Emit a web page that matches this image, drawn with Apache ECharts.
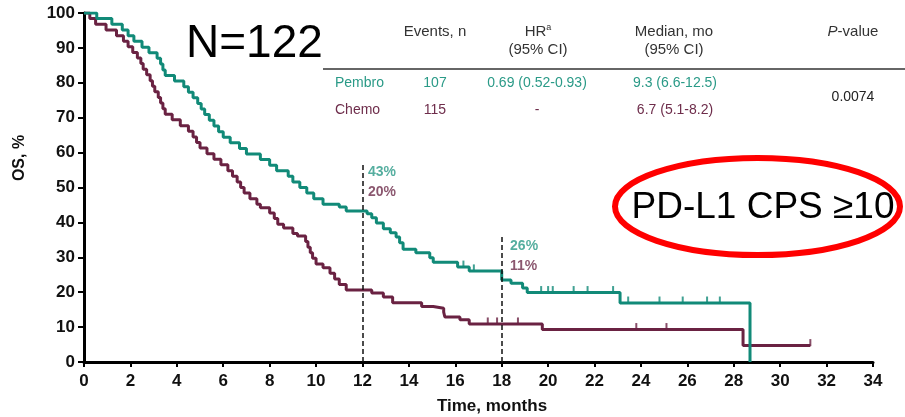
<!DOCTYPE html>
<html>
<head>
<meta charset="utf-8">
<script src="https://cdn.jsdelivr.net/npm/echarts@6/dist/echarts.min.js"></script>
<style>html,body{margin:0;padding:0;background:#fff}#c{width:905px;height:417px}</style>
</head>
<body>
<div id="c"></div>
<script>
// ---- data ----
var xTicks = [0, 34, 2];       // min, max, interval (months)
var yTicks = [0, 100, 10];     // min, max, interval (%)
var pembroKM = [[0,100],[0.55,98.4],[1.2,96.8],[1.65,95.1],[1.9,93.5],[2.15,91.9],[2.5,90.2],[2.8,88.6],[3.15,87.0],[3.3,85.4],[3.4,83.7],[3.5,82.1],[3.9,80.5],[4.3,78.9],[4.5,77.3],[4.7,75.7],[4.9,74.1],[5.05,72.5],[5.2,70.9],[5.4,69.3],[5.6,67.6],[5.8,66.0],[6.0,64.4],[6.3,62.8],[6.7,61.2],[7.0,59.6],[7.6,58.0],[8.0,56.4],[8.3,54.8],[8.8,53.2],[9.0,51.6],[9.3,50.0],[9.6,48.4],[9.9,46.8],[10.3,45.2],[11.0,44.4],[11.3,43.3],[12.2,42.5],[12.4,41.3],[12.6,39.8],[12.9,38.2],[13.2,37.0],[13.45,35.8],[13.6,34.2],[13.75,32.3],[14.3,31.3],[14.9,29.9],[15.05,28.6],[16.1,27.2],[16.6,26.1],[18.0,23.5],[18.4,22.6],[18.9,21.2],[19.1,19.9],[23.1,16.9],[28.7,0]];
var chemoKM = [[0,100],[0.25,98.4],[0.5,96.8],[0.95,95.1],[1.4,93.5],[1.7,91.9],[1.9,90.3],[2.1,88.7],[2.3,87.1],[2.45,85.5],[2.55,83.9],[2.7,82.3],[2.85,80.6],[2.95,79.0],[3.05,77.4],[3.2,75.8],[3.3,74.2],[3.4,72.6],[3.5,71.0],[3.8,69.4],[4.15,67.7],[4.5,66.1],[4.7,64.5],[4.85,62.9],[5.0,61.3],[5.3,59.7],[5.6,58.1],[5.9,56.5],[6.2,54.8],[6.4,53.2],[6.6,51.6],[6.75,50.0],[6.9,48.4],[7.15,46.8],[7.45,45.2],[7.6,44.2],[8.0,42.7],[8.2,41.1],[8.35,39.5],[8.6,38.4],[9.0,36.8],[9.2,36.1],[9.55,34.5],[9.65,32.9],[9.75,31.3],[9.85,29.7],[10.0,28.1],[10.3,27.0],[10.6,25.4],[10.8,23.8],[11.0,22.2],[11.3,20.6],[12.4,19.8],[12.9,18.6],[13.3,17.0],[14.55,15.9],[15.05,15.4],[15.5,14.3],[15.55,12.9],[16.2,12.1],[16.6,10.9],[19.75,9.3],[28.4,4.7],[31.3,4.7]];
var pembroCensor = [[16.35,27.2],[16.8,26.1],[19.7,19.9],[20.0,19.9],[20.2,19.9],[21.1,19.9],[21.7,19.9],[22.8,19.9],[23.45,16.9],[24.8,16.9],[25.8,16.9],[26.85,16.9],[27.4,16.9]];
var chemoCensor = [[17.4,10.9],[17.8,10.9],[18.7,10.9],[23.8,9.3],[25.1,9.3],[31.3,4.7]];
var landmarkTimes = [12, 18];
var landmarkTops = [57, 36.5];
var landmarkPembro = ['43%', '26%'];
var landmarkChemo = ['20%', '11%'];
var landmarkPembroPos = [[12.24, 54.4], [18.36, 33.2]];
var landmarkChemoPos = [[12.24, 48.7], [18.36, 27.5]];
var tableHeaders = ['Events, n', 'HR{sup|a}\n(95% CI)', 'Median, mo\n(95% CI)', '{i|P}-value'];
var armNames = ['Pembro', 'Chemo'];
var armEvents = ['107', '115'];
var armHR = ['0.69 (0.52-0.93)', '-'];
var armMedian = ['9.3 (6.6-12.5)', '6.7 (5.1-8.2)'];
var pValue = '0.0074';
var nLabel = 'N=122';
var subgroupLabel = 'PD-L1 CPS \u226510';
var xName = 'Time, months';
var yName = 'OS, %';

var TEAL = '#118a78', MAROON = '#6a2242';
var TEAL_T = '#2a9a87', MAROON_T = '#6e2d4b';

var chart = echarts.init(document.getElementById('c'), null, {renderer: 'canvas'});
var font = 'Liberation Sans, Arial, sans-serif';

var graphics = [];
// table headers
var hdrX = [435, 538, 674, 853];
tableHeaders.forEach(function (t, i) {
  graphics.push({type: 'text', x: hdrX[i], y: 23, style: {
    text: t, x: 0, y: 0, align: 'center', verticalAlign: 'top', font: '15px ' + font, fill: '#333', lineHeight: 18,
    rich: {sup: {fontSize: 9, verticalAlign: 'top', padding: [0,0,6,0], fill: '#333', fontFamily: font}, i: {fontStyle: 'italic', fontSize: 15, fill: '#333', fontFamily: font}}
  }});
});
graphics.push({type: 'line', shape: {x1: 323, y1: 69, x2: 905, y2: 69}, style: {stroke: '#666', lineWidth: 2}});
var rowY = [83, 110];
var rowCol = [TEAL_T, MAROON_T];
for (var r = 0; r < 2; r++) {
  var st = function (txt, x, al) {
    return {type: 'text', x: x, y: rowY[r], style: {text: txt, align: al, verticalAlign: 'middle', font: '14px ' + font, fill: rowCol[r]}};
  };
  graphics.push(st(armNames[r], 335, 'left'));
  graphics.push(st(armEvents[r], 435, 'center'));
  graphics.push(st(armHR[r], 537, 'center'));
  graphics.push(st(armMedian[r], 675, 'center'));
}
graphics.push({type: 'text', x: 853, y: 97, style: {text: pValue, align: 'center', verticalAlign: 'middle', font: '14px ' + font, fill: '#222'}});
graphics.push({type: 'text', x: 186, y: 44, style: {text: nLabel, align: 'left', verticalAlign: 'middle', font: '46px ' + font, fill: '#000'}});
graphics.push({type: 'ellipse', shape: {cx: 757.5, cy: 206.5, rx: 142.5, ry: 48.5}, style: {fill: 'none', stroke: '#ff0000', lineWidth: 6}});
graphics.push({type: 'text', x: 763, y: 208, style: {text: subgroupLabel, align: 'center', verticalAlign: 'middle', font: '37px ' + font, fill: '#000'}});
graphics.push({type: 'text', x: 492, y: 406, style: {text: xName, align: 'center', verticalAlign: 'middle', font: 'bold 17px ' + font, fill: '#111'}});
graphics.push({type: 'text', x: 20, y: 158, rotation: Math.PI / 2, style: {text: yName, align: 'center', verticalAlign: 'middle', font: 'bold 16px ' + font, fill: '#111'}});

function pctLabels(pos, txt, col) {
  return pos.map(function (p, i) { return {value: p, label: {formatter: txt[i], color: col}}; });
}

chart.setOption({
  animation: false,
  backgroundColor: '#fff',
  grid: {left: 84, right: 32, top: 13, bottom: 55},
  xAxis: {
    type: 'value', min: xTicks[0], max: xTicks[1], interval: xTicks[2],
    axisLine: {lineStyle: {color: '#000', width: 3}},
    axisTick: {length: 5, lineStyle: {color: '#000', width: 2}},
    axisLabel: {color: '#111', fontWeight: 'bold', fontSize: 17, fontFamily: font, margin: 11},
    splitLine: {show: false}
  },
  yAxis: {
    type: 'value', min: yTicks[0], max: yTicks[1], interval: yTicks[2],
    axisLine: {show: true, lineStyle: {color: '#000', width: 3}},
    axisTick: {show: true, length: 6, lineStyle: {color: '#000', width: 2}},
    axisLabel: {color: '#111', fontWeight: 'bold', fontSize: 17, fontFamily: font, margin: 9},
    splitLine: {show: false}
  },
  graphic: graphics,
  series: [
    {
      type: 'line', step: 'end', data: chemoKM, showSymbol: false, symbol: 'none',
      lineStyle: {color: MAROON, width: 3}, z: 3,
      markLine: {
        silent: true, symbol: 'none', label: {show: false},
        lineStyle: {color: '#111', type: [5, 3], width: 1.5},
        data: landmarkTimes.map(function (t, i) { return [{coord: [t, 0]}, {coord: [t, landmarkTops[i]]}]; })
      }
    },
    {
      type: 'line', step: 'end', data: pembroKM, showSymbol: false, symbol: 'none',
      lineStyle: {color: TEAL, width: 3}, z: 4
    },
    {
      type: 'scatter', data: chemoCensor, symbol: 'rect', symbolSize: [2, 7], symbolOffset: [0, -3],
      itemStyle: {color: MAROON}, z: 5
    },
    {
      type: 'scatter', data: pembroCensor, symbol: 'rect', symbolSize: [2, 7], symbolOffset: [0, -3],
      itemStyle: {color: TEAL}, z: 5
    },
    {
      type: 'scatter', symbolSize: 0, z: 6,
      label: {show: true, position: 'right', distance: 0, fontSize: 14, fontWeight: 'bold', fontFamily: font},
      data: pctLabels(landmarkPembroPos, landmarkPembro, TEAL_T).concat(pctLabels(landmarkChemoPos, landmarkChemo, MAROON_T))
    }
  ]
});
</script>
</body>
</html>
